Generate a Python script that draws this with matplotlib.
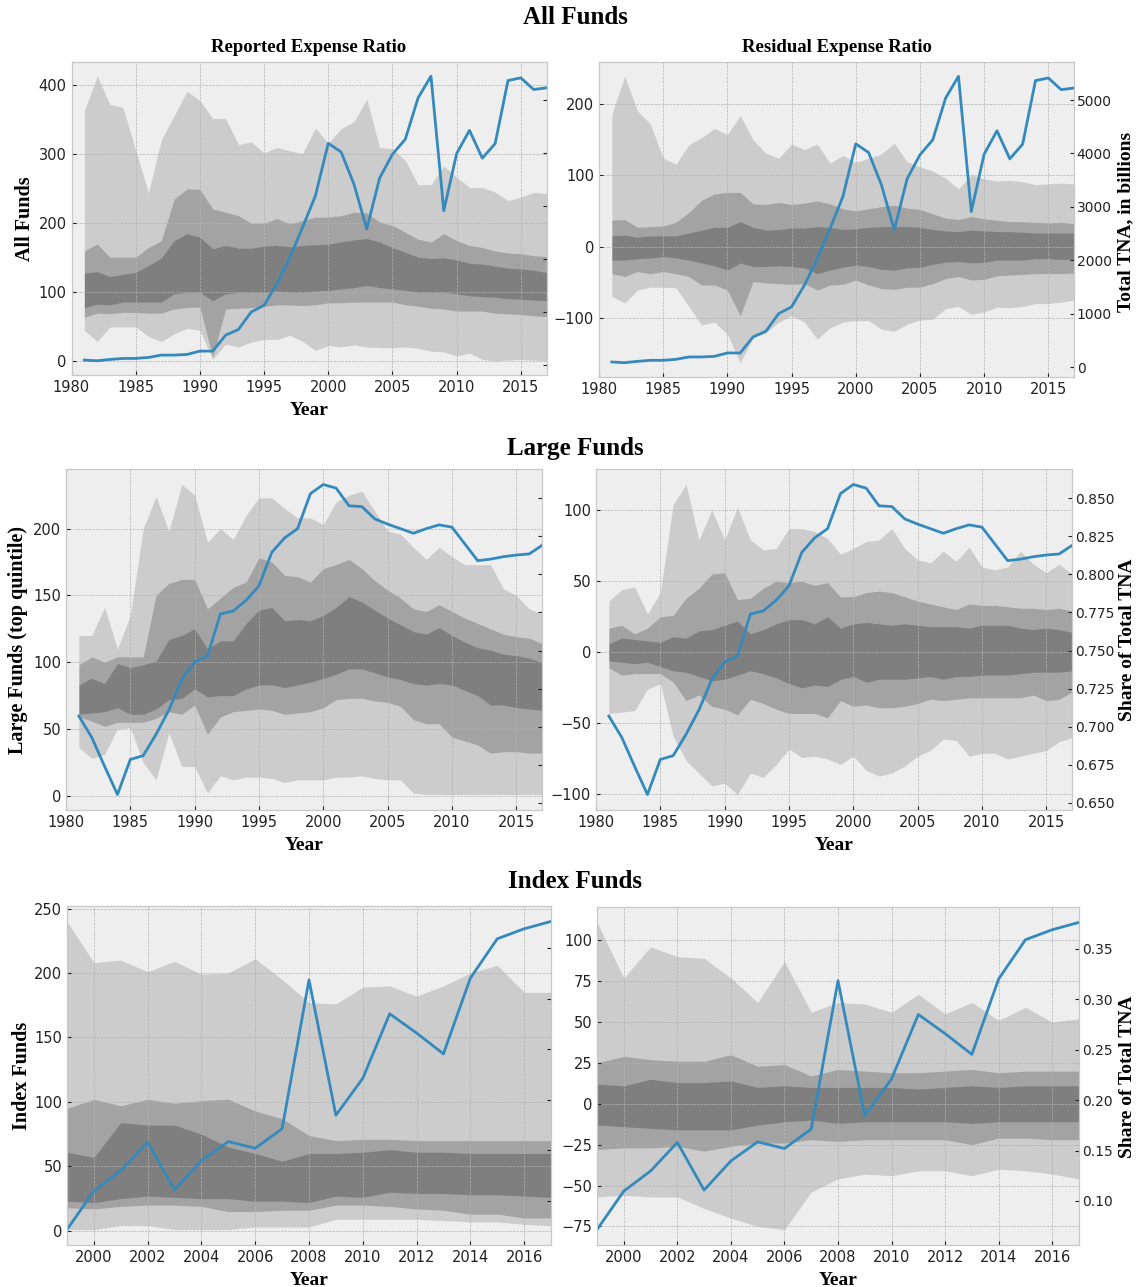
import matplotlib
matplotlib.use("Agg")
import matplotlib.pyplot as plt
from matplotlib.ticker import MultipleLocator

# years
years = list(range(1981, 2018))
years_idx = list(range(1999, 2018))

# blue lines (twin axis)
tna_all = [94, 81, 106, 125, 125, 144, 188, 188, 200, 263, 263, 563, 670, 1001, 1126,
           1533, 2021, 2597, 3191, 4180, 4017, 3410, 2566, 3523, 3974, 4255, 5037, 5444,
           2910, 3986, 4424, 3899, 4174, 5363, 5413, 5194, 5225]
share_large = [0.707, 0.693, 0.674, 0.6555, 0.6785, 0.681, 0.695, 0.711, 0.731, 0.7425,
               0.7465, 0.774, 0.776, 0.783, 0.7925, 0.8145, 0.824, 0.830, 0.853, 0.859,
               0.8566, 0.845, 0.8445, 0.8364, 0.833, 0.830, 0.827, 0.830, 0.8325, 0.831,
               0.820, 0.809, 0.810, 0.8116, 0.8127, 0.8134, 0.819]
share_index = [0.0716, 0.1098, 0.1297, 0.1580, 0.1108, 0.1397, 0.1586, 0.1520, 0.1713,
               0.3184, 0.1846, 0.2211, 0.2849, 0.2659, 0.2453, 0.3201, 0.3590, 0.3689, 0.3762]

# All funds, reported expense ratio
all_rep_out_hi = [363, 413, 372, 368, 306, 244, 321, 356, 391, 378, 352, 352, 314, 318, 302, 310, 305,
                  301, 338, 316, 337, 347, 380, 310, 308, 291, 256, 256, 283, 267, 252, 252, 245, 233,
                  238, 245, 243]
all_rep_mid_hi = [160, 170, 151, 151, 151, 165, 175, 235, 250, 249, 221, 216, 211, 200, 200, 207, 199,
                  204, 209, 209, 211, 216, 215, 202, 197, 187, 177, 173, 185, 175, 168, 165, 160, 157,
                  156, 153, 152]
all_rep_in_hi = [128, 130, 123, 126, 129, 139, 150, 175, 185, 180, 163, 168, 164, 164, 167, 168, 166,
                 168, 169, 170, 173, 176, 178, 173, 165, 158, 151, 149, 150, 147, 142, 141, 138, 135,
                 134, 132, 129]
all_rep_in_lo = [78, 83, 82, 86, 86, 86, 86, 98, 100, 100, 88, 98, 100, 100, 100, 102, 100, 100, 102,
                 103, 105, 107, 110, 107, 105, 103, 100, 100, 100, 98, 95, 94, 93, 91, 90, 89, 88]
all_rep_mid_lo = [64, 70, 69, 71, 71, 70, 70, 76, 78, 79, 6, 76, 77, 78, 80, 82, 82, 81, 82, 85, 85,
                  86, 86, 86, 86, 82, 80, 77, 76, 73, 73, 73, 70, 69, 68, 66, 65]
all_rep_out_lo = [45, 29, 50, 50, 50, 36, 29, 40, 48, 45, 3, 25, 21, 28, 32, 32, 38, 29, 16, 23, 21,
                  24, 21, 20, 20, 21, 19, 15, 14, 8, 12, 3, 1, 2, 3, 2, 1]

# All funds, residual expense ratio
all_res_out_hi = [186, 239, 190, 172, 124, 116, 143, 153, 166, 157, 184, 150, 131, 124, 144, 136, 144,
                  117, 128, 118, 124, 130, 145, 119, 112, 106, 96, 81, 101, 95, 92, 93, 91, 87, 88, 89, 88]
all_res_mid_hi = [37, 38, 27, 28, 29, 34, 48, 65, 74, 76, 76, 60, 59, 62, 59, 61, 64, 60, 53, 50, 53,
                  56, 58, 54, 52, 46, 40, 38, 42, 39, 37, 35, 35, 34, 33, 34, 32]
all_res_in_hi = [15, 16, 13, 15, 15, 15, 19, 23, 27, 27, 35, 27, 23, 24, 26, 26, 28, 27, 24, 25, 27,
                 28, 28, 28, 27, 24, 22, 21, 23, 22, 21, 21, 20, 19, 19, 19, 19]
all_res_in_lo = [-19, -19, -17, -16, -14, -16, -19, -23, -27, -33, -23, -28, -28, -27, -28, -30, -38,
                 -33, -29, -26, -28, -32, -33, -30, -29, -25, -22, -21, -23, -22, -19, -19, -19, -17,
                 -17, -18, -18]
all_res_mid_lo = [-38, -42, -35, -38, -35, -38, -42, -54, -54, -61, -97, -49, -51, -52, -53, -52, -61,
                  -54, -53, -47, -54, -59, -60, -57, -57, -52, -45, -42, -47, -46, -41, -40, -39, -38,
                  -38, -38, -37]
all_res_out_lo = [-70, -79, -61, -57, -57, -58, -84, -110, -106, -123, -163, -128, -121, -106, -97,
                  -106, -130, -114, -106, -104, -104, -116, -119, -109, -103, -102, -87, -84, -95, -92,
                  -85, -86, -84, -80, -80, -78, -75]

# Large funds, reported
lg_rep_out_hi = [120, 120, 141, 110, 135, 200, 224, 198, 233, 225, 190, 200, 192, 210, 223, 223, 215,
                 208, 208, 203, 220, 225, 228, 213, 198, 196, 186, 177, 186, 179, 173, 173, 173, 155,
                 150, 140, 136]
lg_rep_mid_hi = [98, 104, 100, 104, 104, 104, 150, 159, 162, 162, 140, 148, 156, 160, 178, 175, 165,
                 164, 160, 170, 173, 177, 170, 161, 154, 148, 140, 138, 143, 138, 133, 129, 125, 121,
                 119, 118, 114]
lg_rep_in_hi = [83, 88, 84, 99, 96, 98, 101, 117, 120, 125, 110, 116, 116, 129, 139, 141, 131, 132,
                131, 135, 141, 149, 145, 139, 133, 128, 123, 121, 126, 120, 115, 111, 109, 106, 105,
                103, 100]
lg_rep_in_lo = [61, 62, 63, 66, 61, 61, 65, 72, 73, 80, 74, 75, 75, 80, 83, 83, 81, 83, 85, 88, 91,
                95, 95, 92, 89, 87, 84, 83, 84, 83, 79, 75, 68, 68, 66, 65, 64]
lg_rep_mid_lo = [59, 56, 52, 55, 55, 55, 58, 63, 61, 68, 46, 59, 63, 64, 65, 64, 61, 62, 63, 66, 72,
                 73, 73, 71, 70, 67, 57, 54, 54, 44, 41, 38, 32, 33, 33, 32, 32]
lg_rep_out_lo = [36, 28, 31, 50, 51, 25, 12, 47, 22, 22, 2, 15, 12, 14, 14, 13, 10, 12, 12, 12, 14,
                 14, 15, 13, 12, 12, 2, 1, 1, 1, 1, 1, 1, 1, 1, 1, 1]

# Large funds, residual
lg_res_out_hi = [36, 44, 46, 27, 42, 104, 118, 79, 100, 79, 102, 79, 72, 73, 87, 87, 85, 80, 69, 73,
                 78, 79, 87, 73, 65, 63, 71, 64, 74, 60, 58, 60, 71, 62, 56, 62, 55]
lg_res_mid_hi = [17, 19, 13, 17, 25, 26, 38, 45, 55, 56, 37, 38, 45, 50, 49, 50, 47, 49, 39, 39, 42,
                 43, 42, 39, 36, 34, 32, 30, 34, 33, 33, 32, 31, 31, 30, 31, 29]
lg_res_in_hi = [6, 10, 9, 8, 7, 11, 10, 15, 16, 19, 22, 13, 16, 20, 23, 23, 20, 25, 17, 20, 21, 20,
                19, 20, 19, 18, 18, 18, 17, 19, 19, 19, 17, 16, 17, 16, 14]
lg_res_in_lo = [-6, -7, -8, -7, -10, -13, -14, -17, -20, -19, -16, -13, -15, -18, -22, -25, -23, -24,
                -19, -17, -21, -19, -19, -19, -18, -17, -19, -17, -17, -16, -16, -16, -15, -14, -14,
                -14, -13]
lg_res_mid_lo = [-11, -16, -15, -15, -15, -21, -34, -30, -38, -40, -44, -33, -36, -40, -43, -43, -43,
                 -46, -34, -38, -37, -39, -39, -38, -36, -33, -34, -33, -32, -32, -32, -32, -32, -30,
                 -34, -33, -28]
lg_res_out_lo = [-43, -42, -41, -26, -22, -59, -76, -85, -94, -92, -100, -85, -88, -79, -68, -74, -73,
                 -75, -79, -73, -83, -87, -85, -80, -73, -69, -61, -62, -73, -71, -71, -75, -73, -71,
                 -69, -63, -60]

# Index funds, reported
ix_rep_out_hi = [240, 208, 210, 201, 209, 199, 200, 211, 195, 177, 176, 189, 190, 182, 190, 200, 206, 185, 185]
ix_rep_mid_hi = [95, 102, 97, 102, 99, 101, 102, 93, 87, 74, 70, 71, 71, 70, 70, 70, 70, 70, 70]
ix_rep_in_hi = [61, 57, 84, 82, 82, 75, 65, 60, 54, 60, 60, 61, 63, 61, 61, 60, 60, 60, 60]
ix_rep_in_lo = [23, 22, 25, 27, 26, 25, 25, 23, 23, 22, 27, 26, 30, 29, 29, 28, 28, 27, 26]
ix_rep_mid_lo = [18, 17, 19, 20, 20, 19, 15, 15, 16, 16, 20, 20, 19, 17, 16, 13, 13, 10, 10]
ix_rep_out_lo = [1, 1, 4, 4, 1, 1, 1, 3, 3, 3, 9, 9, 9, 9, 8, 7, 7, 5, 4]

# Index funds, residual
ix_res_out_hi = [111, 77, 96, 90, 89, 77, 62, 87, 56, 62, 61, 56, 67, 55, 62, 51, 59, 50, 52]
ix_res_mid_hi = [25, 29, 27, 26, 26, 30, 23, 24, 17, 21, 20, 19, 19, 20, 21, 19, 20, 20, 20]
ix_res_in_hi = [12, 11, 15, 13, 13, 14, 10, 11, 10, 10, 10, 10, 9, 10, 11, 10, 11, 11, 11]
ix_res_in_lo = [-13, -14, -15, -16, -16, -16, -13, -11, -10, -12, -11, -11, -11, -11, -12, -11, -11, -11, -11]
ix_res_mid_lo = [-28, -27, -27, -26, -29, -26, -24, -24, -22, -23, -22, -22, -22, -22, -25, -21, -21, -22, -22]
ix_res_out_lo = [-57, -56, -57, -57, -64, -70, -75, -77, -54, -46, -43, -44, -41, -41, -44, -40, -41, -43, -46]

plt.style.use("bmh")
SERIF = "Liberation Serif"
BLUE = "#348ABD"

fig = plt.figure(figsize=(11.39, 12.87), dpi=100)
fig.patch.set_facecolor("white")


def panel(rect, x, bands, line, xlim, xstep, ystep, tstep, twin_labels):
    ax = fig.add_axes(rect)
    out_lo, mid_lo, in_lo, in_hi, mid_hi, out_hi = bands
    # stacked translucent bands, darker toward the middle
    for lo, hi, a in [(out_lo, out_hi, 0.14), (mid_lo, mid_hi, 0.2), (in_lo, in_hi, 0.215)]:
        ax.fill_between(x, lo, hi, color="black", alpha=a, lw=0)
    ax.set_xlim(*xlim)
    ax.xaxis.set_major_locator(MultipleLocator(xstep))
    ax.yaxis.set_major_locator(MultipleLocator(ystep))
    ax.tick_params(labelsize=10.5, colors="#222222", length=3)
    for s in ax.spines.values():
        s.set_color("#c8c8c8")

    ax2 = ax.twinx()
    ax2.plot(x, line, color=BLUE, lw=2)
    ax2.grid(False)
    ax2.set_xlim(*xlim)
    ax2.yaxis.set_major_locator(MultipleLocator(tstep))
    if twin_labels:
        ax2.tick_params(labelsize=10, colors="#222222", length=3, pad=2)
    else:
        ax2.tick_params(labelright=False, direction="in", length=3, colors="#222222")
    for s in ax2.spines.values():
        s.set_color("#c8c8c8")
    return ax


def xlabel(ax):
    ax.set_xlabel("Year", family=SERIF, weight="bold", fontsize=14, color="black", labelpad=5)


W, H = 1139, 1287


def rect(l, t, r, b):
    return [l / W, 1 - b / H, (r - l) / W, (b - t) / H]


long_lim = (1980, 2017)
idx_lim = (1999, 2017)

ax = panel(rect(71.5, 62, 546.5, 375), years,
           [all_rep_out_lo, all_rep_mid_lo, all_rep_in_lo, all_rep_in_hi, all_rep_mid_hi, all_rep_out_hi],
           tna_all, long_lim, 5, 100, 1000, False)
xlabel(ax)
panel(rect(599, 62, 1074, 377), years,
      [all_res_out_lo, all_res_mid_lo, all_res_in_lo, all_res_in_hi, all_res_mid_hi, all_res_out_hi],
      tna_all, long_lim, 5, 100, 1000, True)

ax = panel(rect(66, 469, 542, 810), years,
           [lg_rep_out_lo, lg_rep_mid_lo, lg_rep_in_lo, lg_rep_in_hi, lg_rep_mid_hi, lg_rep_out_hi],
           share_large, long_lim, 5, 50, 0.025, False)
xlabel(ax)
ax = panel(rect(596, 469, 1072, 810), years,
           [lg_res_out_lo, lg_res_mid_lo, lg_res_in_lo, lg_res_in_hi, lg_res_mid_hi, lg_res_out_hi],
           share_large, long_lim, 5, 50, 0.025, True)
xlabel(ax)

ax = panel(rect(67, 906, 551, 1245), years_idx,
           [ix_rep_out_lo, ix_rep_mid_lo, ix_rep_in_lo, ix_rep_in_hi, ix_rep_mid_hi, ix_rep_out_hi],
           share_index, idx_lim, 2, 50, 0.05, False)
xlabel(ax)
ax = panel(rect(597, 907, 1079, 1245), years_idx,
           [ix_res_out_lo, ix_res_mid_lo, ix_res_in_lo, ix_res_in_hi, ix_res_mid_hi, ix_res_out_hi],
           share_index, idx_lim, 2, 25, 0.05, True)
xlabel(ax)

# row and column headings
head = dict(family=SERIF, weight="bold", ha="center", va="center", color="black")
fig.text(0.505, 1 - 17 / H, "All Funds", fontsize=18, **head)
fig.text(0.505, 1 - 448 / H, "Large Funds", fontsize=18, **head)
fig.text(0.505, 1 - 881 / H, "Index Funds", fontsize=18, **head)
fig.text(309 / W, 1 - 48 / H, "Reported Expense Ratio", fontsize=13.5, **head)
fig.text(836.5 / W, 1 - 48 / H, "Residual Expense Ratio", fontsize=13.5, **head)

# axis labels
fig.text(25 / W, 1 - 218.5 / H, "All Funds", fontsize=14.5, rotation=90, **head)
fig.text(18 / W, 1 - 639.5 / H, "Large Funds (top quintile)", fontsize=14.5, rotation=90, **head)
fig.text(22 / W, 1 - 1075.5 / H, "Index Funds", fontsize=14.5, rotation=90, **head)
fig.text(1126 / W, 1 - 222 / H, "Total TNA, in billions", fontsize=14, rotation=90, **head)
fig.text(1128 / W, 1 - 640 / H, "Share of Total TNA", fontsize=14, rotation=90, **head)
fig.text(1128 / W, 1 - 1077 / H, "Share of Total TNA", fontsize=14, rotation=90, **head)

fig.savefig("out.png", dpi=100)
